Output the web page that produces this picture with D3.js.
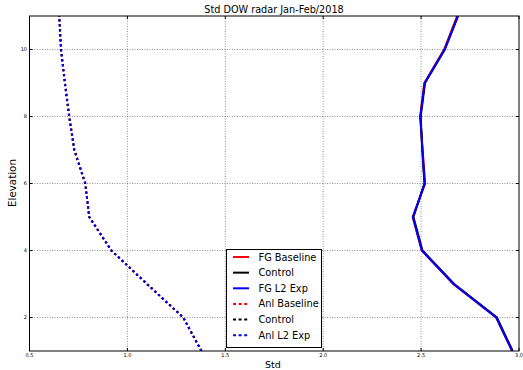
<!DOCTYPE html>
<html>
<head>
<meta charset="utf-8">
<script src="https://cdn.jsdelivr.net/npm/d3@7"></script>
<style>
  html, body { margin: 0; padding: 0; background: #fff; }
  svg { display: block; font-family: "DejaVu Sans", sans-serif; }
</style>
</head>
<body>
<svg id="chart" width="523" height="370"></svg>
<script>
// Elevation levels (y) and the standard deviation profiles (x) per series
const elevations = [1, 2, 3, 4, 5, 6, 7, 8, 9, 10, 11];

const fgBaseline  = [2.965, 2.883, 2.664, 2.503, 2.457, 2.521, 2.508, 2.495, 2.516, 2.617, 2.684];
const fgControl   = [2.968, 2.887, 2.669, 2.507, 2.461, 2.517, 2.506, 2.498, 2.520, 2.621, 2.689];
const fgL2Exp     = [2.965, 2.884, 2.666, 2.504, 2.458, 2.518, 2.507, 2.496, 2.518, 2.620, 2.688];

const anlBaseline = [1.377, 1.284, 1.099, 0.917, 0.804, 0.786, 0.730, 0.704, 0.682, 0.662, 0.653];
const anlControl  = [1.379, 1.286, 1.101, 0.919, 0.806, 0.784, 0.728, 0.702, 0.680, 0.660, 0.651];
const anlL2Exp    = [1.378, 1.285, 1.100, 0.918, 0.805, 0.785, 0.729, 0.703, 0.681, 0.661, 0.652];

const xTicks = [0.5, 1.0, 1.5, 2.0, 2.5, 3.0];
const yTicks = [2, 4, 6, 8, 10];

const series = [
  { name: "FG Baseline",  values: fgBaseline,  color: "#ff0000", dotted: false },
  { name: "Control",      values: fgControl,   color: "#000000", dotted: false },
  { name: "FG L2 Exp",    values: fgL2Exp,     color: "#0000ff", dotted: false },
  { name: "Anl Baseline", values: anlBaseline, color: "#ff0000", dotted: true },
  { name: "Control",      values: anlControl,  color: "#000000", dotted: true },
  { name: "Anl L2 Exp",   values: anlL2Exp,    color: "#0000ff", dotted: true }
];

const svg = d3.select("#chart");
const plotLeft = 29.5, plotRight = 519, plotTop = 16, plotBottom = 351;

const x = d3.scaleLinear().domain([0.5, 3.0]).range([plotLeft, plotRight]);
const y = d3.scaleLinear().domain([1, 11]).range([plotBottom, plotTop]);

const DOT = "2.2,2.8";
const LEGEND_DOT = "3,2.6";

// grid
const grid = svg.append("g");
grid.selectAll(".gx").data(xTicks.slice(1, -1)).join("line")
  .attr("x1", d => x(d)).attr("x2", d => x(d))
  .attr("y1", plotTop).attr("y2", plotBottom)
  .attr("stroke", "#222").attr("stroke-width", 0.5).attr("stroke-dasharray", "1,1.5");
grid.selectAll(".gy").data(yTicks).join("line")
  .attr("x1", plotLeft).attr("x2", plotRight)
  .attr("y1", d => y(d)).attr("y2", d => y(d))
  .attr("stroke", "#222").attr("stroke-width", 0.5).attr("stroke-dasharray", "1,1.5");

// clip for the profile lines
svg.append("clipPath").attr("id", "plotclip")
  .append("rect").attr("x", plotLeft).attr("y", plotTop)
  .attr("width", plotRight - plotLeft).attr("height", plotBottom - plotTop);

const line = d3.line()
  .x(d => x(d[0]))
  .y(d => y(d[1]));

const lines = svg.append("g").attr("clip-path", "url(#plotclip)");
series.forEach(s => {
  lines.append("path")
    .datum(s.values.map((v, i) => [v, elevations[i]]))
    .attr("d", line)
    .attr("fill", "none")
    .attr("stroke", s.color)
    .attr("stroke-width", 2)
    .attr("stroke-dasharray", s.dotted ? DOT : null);
});

// frame
svg.append("rect")
  .attr("x", plotLeft).attr("y", plotTop)
  .attr("width", plotRight - plotLeft).attr("height", plotBottom - plotTop)
  .attr("fill", "none").attr("stroke", "#000").attr("stroke-width", 1);

// inward ticks on all four sides
const tickLen = 3;
const ticks = svg.append("g").attr("stroke", "#000").attr("stroke-width", 1);
xTicks.forEach(t => {
  ticks.append("line").attr("x1", x(t)).attr("x2", x(t)).attr("y1", plotBottom).attr("y2", plotBottom - tickLen);
  ticks.append("line").attr("x1", x(t)).attr("x2", x(t)).attr("y1", plotTop).attr("y2", plotTop + tickLen);
});
yTicks.forEach(t => {
  ticks.append("line").attr("x1", plotLeft).attr("x2", plotLeft + tickLen).attr("y1", y(t)).attr("y2", y(t));
  ticks.append("line").attr("x1", plotRight).attr("x2", plotRight - tickLen).attr("y1", y(t)).attr("y2", y(t));
});

// tick labels
svg.append("g").selectAll("text").data(xTicks).join("text")
  .attr("x", d => x(d)).attr("y", 356.5)
  .attr("text-anchor", "middle")
  .attr("font-size", 5).attr("fill", "#000")
  .text(d => d.toFixed(1));
svg.append("g").selectAll("text").data(yTicks).join("text")
  .attr("x", 27).attr("y", d => y(d) + 1.8)
  .attr("text-anchor", "end")
  .attr("font-size", 5).attr("fill", "#000")
  .text(d => d);

// title and axis labels
svg.append("text").attr("x", 274).attr("y", 13)
  .attr("text-anchor", "middle").attr("font-size", 9.7)
  .text("Std DOW radar Jan-Feb/2018");
svg.append("text").attr("x", 273).attr("y", 368)
  .attr("text-anchor", "middle").attr("font-size", 9.5)
  .text("Std");
svg.append("text")
  .attr("transform", "translate(16,183) rotate(-90)")
  .attr("text-anchor", "middle").attr("font-size", 10.3)
  .text("Elevation");

// legend
const lg = svg.append("g");
lg.append("rect")
  .attr("x", 226.5).attr("y", 249.5).attr("width", 95).attr("height", 98)
  .attr("fill", "#fff").attr("stroke", "#000").attr("stroke-width", 1);
series.forEach((s, i) => {
  const cy = 257 + i * 15.65;
  lg.append("line")
    .attr("x1", 233).attr("x2", 249).attr("y1", cy).attr("y2", cy)
    .attr("stroke", s.color).attr("stroke-width", 2)
    .attr("stroke-dasharray", s.dotted ? LEGEND_DOT : null);
  lg.append("text")
    .attr("x", 258.5).attr("y", cy + 3.5)
    .attr("font-size", 9.8)
    .text(s.name);
});
</script>
</body>
</html>
